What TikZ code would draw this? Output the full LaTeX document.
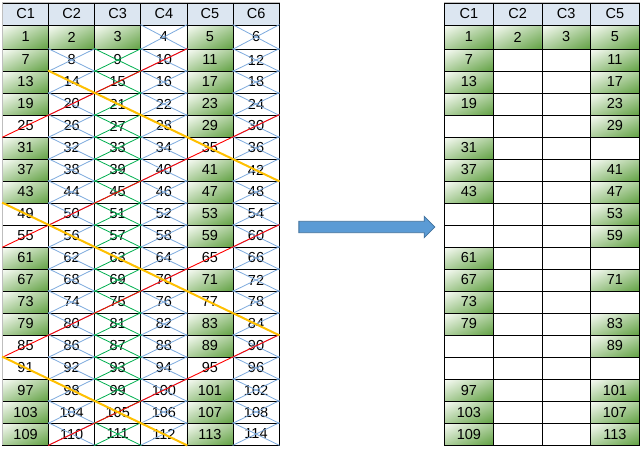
\documentclass[tikz,border=0pt]{standalone}
\usepackage{fontspec}
\setmainfont{Liberation Sans}
\usepackage{tikz}
\usetikzlibrary{
        positioning,
        shapes.arrows
    }
\definecolor{headblue}{RGB}{220,230,241}
\definecolor{crossblue}{RGB}{125,170,222}
\definecolor{crossgreen}{RGB}{0,176,80}
\definecolor{crossred}{RGB}{255,0,0}
\definecolor{crossorange}{RGB}{255,192,0}
\definecolor{arrowblue}{RGB}{91,155,213}
\definecolor{arrowedge}{RGB}{65,113,156}
\definecolor{edgegray}{RGB}{190,190,190}
% light green in the top left corner, dark green in the bottom right one
\pgfdeclarefunctionalshading{diaggreen}{\pgfpoint{0bp}{0bp}}{\pgfpoint{100bp}{100bp}}{}{
    sub 50 add 100 div
    dup -0.60 mul 0.98 add exch
    dup -0.36 mul 0.99 add exch
    -0.71 mul 0.97 add
}
\tikzset{
    cell/.style={draw=black,line width=0.8pt,inner sep=0pt,minimum height=22pt,font=\fontsize{14.5}{17}\selectfont},
    prime/.style={cell,shade,shading=diaggreen},
    plain/.style={cell,fill=white},
    head/.style={cell,fill=headblue},
    bluex/.style={draw=crossblue,line width=0.8pt},
    greenx/.style={draw=crossgreen,line width=0.8pt},
    fives/.style={draw=crossred,line width=0.9pt},
    sevens/.style={draw=crossorange,line width=2pt}
}

\begin{document}
\begin{tikzpicture}[x=1pt,y=-1pt]
\useasboundingbox (0,0) rectangle (640,448);
% primes (and 1) get the green fill
\foreach \p in {1,2,3,5,7,11,13,17,19,23,29,31,37,41,43,47,53,59,61,67,71,73,79,83,89,97,101,103,107,109,113}
    {\expandafter\xdef\csname pr\p\endcsname{1}}

% left table
\foreach \c in {1,...,6}
    \node[head,minimum width=46.1pt] (lh\c) at ({2.5+46.1*(\c-0.5)},14) {C\c};
\foreach \r in {1,...,19} {
    \pgfmathsetmacro\cy{\r==1 ? 37 : 60+22*(\r-2)}
    \pgfmathsetmacro\ch{\r==1 ? 24 : 22}
    \foreach \c in {1,...,6} {
        \pgfmathtruncatemacro\n{6*(\r-1)+\c}
        \ifcsname pr\n\endcsname\def\sty{prime}\else\def\sty{plain}\fi
        \node[\sty,minimum width=46.1pt,minimum height=\ch pt] (n\n) at ({2.5+46.1*(\c-0.5)},\cy) {\n};
    }
}

% right table
\foreach \c/\j in {1/1,2/2,3/3,5/4}
    \node[head,minimum width=48.7pt] (rh\j) at ({444.5+48.7*(\j-0.5)},14) {C\c};
\foreach \r in {1,...,19} {
    \pgfmathsetmacro\cy{\r==1 ? 37 : 60+22*(\r-2)}
    \pgfmathsetmacro\ch{\r==1 ? 24 : 22}
    \foreach \c/\j in {1/1,2/2,3/3,5/4} {
        \pgfmathtruncatemacro\n{6*(\r-1)+\c}
        \ifcsname pr\n\endcsname\def\sty{prime}\edef\txt{\n}\else\def\sty{plain}\def\txt{}\fi
        \node[\sty,minimum width=48.7pt,minimum height=\ch pt] (r\n) at ({444.5+48.7*(\j-0.5)},\cy) {\txt};
    }
}

\draw[edgegray,line width=0.8pt] (lh1.north west) -- (lh6.north east)
    (lh1.north west) -- (n109.south west)
    (rh1.north west) -- (rh4.north east);

% even numbers
\foreach \r in {1,...,19}
    \foreach \c in {2,4,6} {
        \pgfmathtruncatemacro\n{6*(\r-1)+\c}
        \ifnum\n>2
            \draw[bluex] (n\n.north west) -- (n\n.south east) (n\n.north east) -- (n\n.south west);
        \fi
    }
% multiples of 3
\foreach \n in {9,15,...,111}
    \draw[greenx] (n\n.north west) -- (n\n.south east) (n\n.north east) -- (n\n.south west);
% multiples of 5
\draw[fives] (n25.south west) -- (n10.north east);
\draw[fives] (n55.south west) -- (n30.north east);
\draw[fives] (n85.south west) -- (n60.north east);
\draw[fives] (n110.south west) -- (n90.north east);
% multiples of 7
\draw[sevens] (n14.north west) -- (n42.south east);
\draw[sevens] (n49.north west) -- (n84.south east);
\draw[sevens] (n91.north west) -- (n112.south east);

\node[single arrow,draw=arrowedge,fill=arrowblue,line width=0.8pt,inner xsep=0pt,inner ysep=5.3pt,
    minimum width=20.6pt,minimum height=136pt,single arrow head extend=5pt] (arrow) at (364,227) {};
\end{tikzpicture}
\end{document}
